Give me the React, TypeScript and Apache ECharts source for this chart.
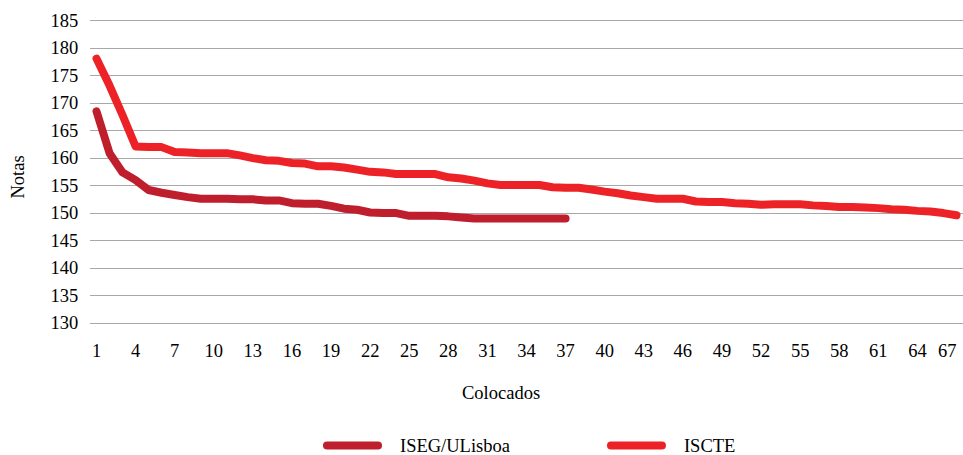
import React, { useEffect, useRef } from "react";
import * as echarts from "echarts";

const categories: string[] = Array.from({ length: 67 }, (_, i) => String(i + 1));

const isegValues: number[] = [
  168.5, 160.9, 157.4, 156, 154.2, 153.7, 153.3, 152.9, 152.6, 152.6,
  152.6, 152.5, 152.5, 152.3, 152.3, 151.8, 151.7, 151.7, 151.3, 150.8,
  150.6, 150.1, 150, 150, 149.5, 149.5, 149.5, 149.4, 149.2, 149,
  149, 149, 149, 149, 149, 149, 149,
];

const iscteValues: number[] = [
  178.1, 173.2, 167.8, 162.1, 162, 162, 161.1, 161, 160.9, 160.9,
  160.9, 160.5, 160, 159.6, 159.5, 159.1, 159, 158.5, 158.5, 158.3,
  157.9, 157.5, 157.4, 157.1, 157.1, 157.1, 157.1, 156.5, 156.3, 155.9,
  155.4, 155.1, 155.1, 155.1, 155.1, 154.7, 154.6, 154.6, 154.3, 153.9,
  153.6, 153.2, 152.9, 152.6, 152.6, 152.6, 152.1, 152, 152, 151.8,
  151.7, 151.5, 151.6, 151.6, 151.6, 151.4, 151.3, 151.1, 151.1, 151,
  150.9, 150.7, 150.6, 150.4, 150.3, 150, 149.6,
];

const seriesNames = ["ISEG/ULisboa", "ISCTE"];
const seriesColors = ["#BF1E2D", "#ED2227"];
const yAxisTitle = "Notas";
const xAxisTitle = "Colocados";

const FONT = "'Liberation Serif', Tinos, 'Times New Roman', 'DejaVu Serif', serif";
const FS = 18.5;

export default function App() {
  const ref = useRef<HTMLDivElement | null>(null);

  useEffect(() => {
    document.body.style.margin = "0";
    if (!ref.current) return;
    const chart = echarts.init(ref.current, undefined, { renderer: "svg" });
    const pill = "path://M4,0 H55 A4,4 0 0 1 55,8 H4 A4,4 0 0 1 4,0 Z";
    chart.setOption({
      animation: false,
      backgroundColor: "#ffffff",
      textStyle: { fontFamily: FONT },
      grid: {
        left: 90,
        right: 0,
        top: 20.7,
        bottom: 132,
        containLabel: false,
        outerBoundsMode: "none",
      },
      legend: {
        left: 323,
        top: 436,
        padding: 0,
        itemGap: 97,
        itemWidth: 59,
        itemHeight: 8,
        textStyle: {
          fontFamily: FONT,
          fontSize: FS,
          lineHeight: 18,
          color: "#000",
          padding: [0, 0, 0, 13],
        },
        data: seriesNames.map((n) => ({ name: n, icon: pill })),
      },
      xAxis: {
        type: "category",
        data: categories,
        boundaryGap: true,
        axisLine: { show: false },
        axisTick: { show: false },
        axisLabel: {
          interval: 2,
          margin: 18.5,
          fontFamily: FONT,
          fontSize: FS,
          color: "#000",
          alignMaxLabel: "right",
        },
        splitLine: { show: false },
      },
      yAxis: {
        type: "value",
        min: 130,
        max: 185,
        interval: 5,
        axisLine: { show: false },
        axisTick: { show: false },
        axisLabel: { margin: 11.7, fontFamily: FONT, fontSize: FS, color: "#000" },
        splitLine: { show: true, lineStyle: { color: "#a8a8a8", width: 1 } },
      },
      graphic: [
        {
          type: "text",
          x: 17.5,
          y: 177,
          rotation: Math.PI / 2,
          style: {
            text: yAxisTitle,
            fontFamily: FONT,
            fontSize: FS,
            fill: "#000",
            align: "center",
            verticalAlign: "middle",
          },
        },
        {
          type: "text",
          left: 462,
          top: 383,
          style: { text: xAxisTitle, fontFamily: FONT, fontSize: FS, fill: "#000" },
        },
      ],
      series: [
        {
          name: seriesNames[0],
          type: "line",
          data: isegValues,
          symbol: "none",
          color: seriesColors[0],
          lineStyle: { width: 8, color: seriesColors[0], cap: "round", join: "round" },
        },
        {
          name: seriesNames[1],
          type: "line",
          data: iscteValues,
          symbol: "none",
          color: seriesColors[1],
          lineStyle: { width: 8, color: seriesColors[1], cap: "round", join: "round" },
        },
      ],
    });
    return () => chart.dispose();
  }, []);

  return (
    <div
      ref={ref}
      style={{ position: "absolute", left: 0, top: 0, width: 963, height: 455 }}
    />
  );
}
